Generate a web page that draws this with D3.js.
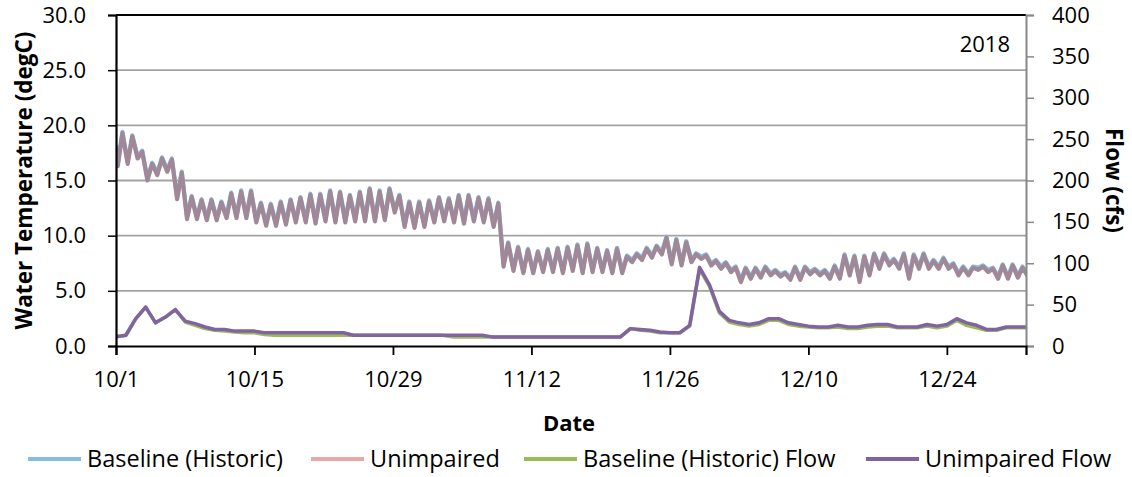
<!DOCTYPE html>
<html><head><meta charset="utf-8">
<script src="https://cdn.jsdelivr.net/npm/d3@7"></script>
<style>
html,body{margin:0;padding:0;background:#fff;}
svg{display:block;font-family:"Open Sans",Lato,sans-serif;}
</style></head>
<body>
<svg id="chart" width="1132" height="477"></svg>
<script>
// ---- data (day 0 = 10/1/2018), daily min/max water temperature (degC) ----
const startDate = Date.UTC(2018, 9, 1);
const endDate = Date.UTC(2019, 0, 1);
const tickLabels = ["10/1", "10/15", "10/29", "11/12", "11/26", "12/10", "12/24"];
const tickDays = [0, 14, 28, 42, 56, 70, 84];
const yearLabel = "2018";

const baseStart = 18.2;
const baseMax = [
  19.4, 19.1, 17.7, 16.6, 17.1, 17.0, 15.8, 13.6, 13.3, 13.3,
  13.1, 13.9, 14.1, 14.1, 13.0, 12.9, 13.1, 13.3, 13.5, 13.8,
  13.8, 14.1, 14.0, 13.7, 14.0, 14.3, 14.1, 14.3, 13.7, 13.1,
  13.1, 13.2, 13.5, 13.4, 13.7, 13.7, 13.5, 13.4, 13.0, 9.4,
  9.0, 8.8, 8.6, 8.8, 8.9, 9.0, 9.2, 9.3, 8.9, 8.7,
  8.9, 8.2, 8.4, 8.9, 9.1, 9.9, 9.7, 9.5, 8.4, 8.3,
  7.8, 7.6, 7.2, 7.1, 7.1, 7.2, 6.9, 6.7, 7.2, 7.2,
  7.0, 6.9, 7.3, 8.3, 8.2, 8.2, 8.4, 8.4, 7.9, 8.4,
  8.3, 8.4, 7.8, 8.0, 7.5, 7.2, 7.2, 7.3, 7.1, 7.4,
  7.4, 7.2, 7.0
];
const baseMin = [
  16.5, 16.7, 17.2, 15.2, 15.7, 16.0, 13.5, 11.7, 11.7, 11.6,
  11.6, 11.8, 11.8, 11.8, 11.4, 11.1, 11.1, 11.2, 11.4, 11.4,
  11.3, 11.5, 11.4, 11.4, 11.5, 11.5, 11.5, 11.6, 12.3, 11.0,
  10.9, 11.0, 11.4, 11.5, 11.4, 11.3, 11.5, 11.4, 11.0, 7.4,
  7.0, 6.8, 6.8, 6.9, 6.9, 6.8, 7.0, 6.8, 6.9, 6.9,
  6.8, 6.8, 7.8, 8.0, 8.2, 8.5, 7.6, 7.5, 7.8, 8.1,
  7.5, 7.2, 6.9, 6.0, 6.3, 6.4, 6.6, 6.5, 6.2, 6.2,
  6.7, 6.6, 6.3, 6.3, 6.6, 6.0, 6.6, 7.2, 7.5, 7.2,
  6.3, 7.2, 7.2, 7.2, 7.2, 6.6, 6.6, 7.1, 6.9, 6.3,
  6.3, 6.4, 6.5
];
const unimpStart = 18.0;
const unimpMax = [
  19.3, 19.0, 17.6, 16.5, 17.0, 16.9, 15.7, 13.5, 13.2, 13.2,
  13.0, 13.8, 14.0, 14.0, 12.9, 12.8, 13.0, 13.2, 13.4, 13.7,
  13.7, 14.0, 13.9, 13.6, 13.9, 14.2, 14.0, 14.2, 13.6, 13.0,
  13.0, 13.1, 13.4, 13.3, 13.6, 13.6, 13.4, 13.3, 12.9, 9.3,
  8.9, 8.7, 8.5, 8.7, 8.8, 8.9, 9.1, 9.2, 8.8, 8.6,
  8.8, 8.1, 8.3, 8.8, 9.0, 9.8, 9.6, 9.4, 8.3, 8.2,
  7.7, 7.5, 7.1, 7.0, 7.0, 7.1, 6.8, 6.6, 7.1, 7.1,
  6.9, 6.8, 7.2, 8.2, 8.1, 8.1, 8.3, 8.3, 7.8, 8.3,
  8.2, 8.3, 7.7, 7.9, 7.4, 7.1, 7.1, 7.2, 7.0, 7.3,
  7.3, 7.1, 6.9
];
const unimpMin = [
  16.3, 16.5, 17.0, 15.0, 15.5, 15.8, 13.3, 11.5, 11.5, 11.4,
  11.4, 11.6, 11.6, 11.6, 11.2, 10.9, 10.9, 11.0, 11.2, 11.2,
  11.1, 11.3, 11.2, 11.2, 11.3, 11.3, 11.3, 11.4, 12.1, 10.8,
  10.7, 10.8, 11.2, 11.3, 11.2, 11.1, 11.3, 11.2, 10.8, 7.2,
  6.8, 6.6, 6.6, 6.7, 6.7, 6.6, 6.8, 6.6, 6.7, 6.7,
  6.6, 6.6, 7.6, 7.8, 8.0, 8.3, 7.4, 7.3, 7.6, 7.9,
  7.3, 7.0, 6.7, 5.8, 6.1, 6.2, 6.4, 6.3, 6.0, 6.0,
  6.5, 6.4, 6.1, 6.1, 6.4, 5.8, 6.4, 7.0, 7.3, 7.0,
  6.1, 7.0, 7.0, 7.0, 7.0, 6.4, 6.4, 6.9, 6.7, 6.1,
  6.1, 6.2, 6.3
];
// daily flow (cfs)
const baseFlow = [
  11, 13, 33, 47, 28, 35, 44, 29, 25, 21,
  19, 18, 17, 16, 16, 14, 13, 13, 13, 13,
  13, 13, 13, 13, 13, 13, 13, 13, 13, 13,
  13, 13, 13, 13, 11, 11, 11, 11, 11, 11,
  11, 11, 11, 11, 11, 11, 11, 11, 11, 11,
  11, 11, 21, 19, 18, 16, 16, 16, 24, 93,
  72, 40, 29, 26, 24, 26, 31, 31, 26, 24,
  23, 22, 22, 23, 21, 21, 23, 24, 24, 22,
  22, 22, 24, 22, 24, 31, 25, 22, 19, 19,
  22, 22, 22
];
const unimpFlow = [
  11, 13, 33, 47, 28, 35, 44, 30, 27, 23,
  20, 20, 18, 18, 18, 16, 16, 16, 16, 16,
  16, 16, 16, 16, 13, 13, 13, 13, 13, 13,
  13, 13, 13, 13, 13, 13, 13, 13, 11, 11,
  11, 11, 11, 11, 11, 11, 11, 11, 11, 11,
  11, 11, 21, 20, 19, 17, 16, 16, 25, 95,
  74, 42, 31, 28, 26, 28, 33, 33, 28, 26,
  24, 23, 23, 25, 23, 23, 25, 26, 26, 23,
  23, 23, 26, 24, 26, 33, 28, 25, 20, 20,
  23, 23, 23
];
const seriesNames = ["Baseline (Historic)", "Unimpaired", "Baseline (Historic) Flow", "Unimpaired Flow"];
const seriesColors = ["#86bce2", "#e8a8aa", "#9bbb59", "#8064a2"];
const overlapColor = "#a08898"; // how the pink Unimpaired trace appears where it sits over the blue one

// ---- chart ----
const DAY = 86400000;
const FONT = 22;
const svg = d3.select("#chart");
const L = 116, R = 1026, T = 15, B = 346;
const x = d3.scaleUtc().domain([new Date(startDate), new Date(endDate)]).range([L, R]);
const yT = d3.scaleLinear().domain([0, 30]).range([B, T]);
const yQ = d3.scaleLinear().domain([0, 400]).range([B, T]);

svg.append("defs").append("clipPath").attr("id", "clip")
  .append("rect").attr("x", L).attr("y", T - 5).attr("width", R - L).attr("height", B - T + 10);

// gridlines
svg.append("g").selectAll("line").data(d3.range(5, 30, 5)).join("line")
  .attr("x1", L).attr("x2", R).attr("y1", d => yT(d)).attr("y2", d => yT(d))
  .attr("stroke", "#a3a3a3").attr("stroke-width", 1.8);
// top border
svg.append("line").attr("x1", L).attr("x2", R).attr("y1", T).attr("y2", T)
  .attr("stroke", "#000").attr("stroke-width", 2);

function tempSeries(start, mins, maxs) {
  const pts = [[new Date(startDate), start]];
  mins.forEach((v, i) => {
    pts.push([new Date(startDate + (i + 0.18) * DAY), v]);
    pts.push([new Date(startDate + (i + 0.65) * DAY), maxs[i]]);
  });
  return pts;
}
const flowSeries = arr => arr.map((v, i) => [new Date(startDate + i * DAY), v]);

const plot = svg.append("g").attr("clip-path", "url(#clip)");
const lineT = d3.line().x(d => x(d[0])).y(d => yT(d[1]));
const lineQ = d3.line().x(d => x(d[0])).y(d => yQ(d[1]));

plot.append("path").datum(tempSeries(baseStart, baseMin, baseMax))
  .attr("d", lineT).attr("fill", "none").attr("stroke", seriesColors[0])
  .attr("stroke-width", 4.2).attr("stroke-linejoin", "round");
plot.append("path").datum(tempSeries(unimpStart, unimpMin, unimpMax))
  .attr("d", lineT).attr("fill", "none").attr("stroke", overlapColor)
  .attr("stroke-width", 4.2).attr("stroke-linejoin", "round");
plot.append("path").datum(flowSeries(baseFlow))
  .attr("d", lineQ).attr("fill", "none").attr("stroke", seriesColors[2])
  .attr("stroke-width", 3.5).attr("stroke-linejoin", "round");
plot.append("path").datum(flowSeries(unimpFlow))
  .attr("d", lineQ).attr("fill", "none").attr("stroke", seriesColors[3])
  .attr("stroke-width", 3.5).attr("stroke-linejoin", "round");

// left axis
const axL = svg.append("g").attr("transform", `translate(${L},0)`)
  .call(d3.axisLeft(yT).tickValues(d3.range(0, 31, 5)).tickFormat(d3.format(".1f")).tickSize(8).tickPadding(22));
axL.select(".domain").attr("stroke", "#000").attr("stroke-width", 2.2);
axL.selectAll(".tick line").attr("stroke", "#000").attr("stroke-width", 1.5);
axL.selectAll("text").attr("font-size", FONT).attr("fill", "#000").style("font-family", "Open Sans");

// right axis
const axR = svg.append("g").attr("transform", `translate(${R},0)`)
  .call(d3.axisRight(yQ).tickValues(d3.range(0, 401, 50)).tickSize(8).tickPadding(18));
axR.select(".domain").attr("stroke", "#888").attr("stroke-width", 2);
axR.selectAll(".tick line").attr("stroke", "#888").attr("stroke-width", 1.5);
axR.selectAll("text").attr("font-size", FONT).attr("fill", "#000").style("font-family", "Open Sans");

// bottom axis
const axB = svg.append("g").attr("transform", `translate(0,${B})`)
  .call(d3.axisBottom(x).tickValues(tickDays.map(d => new Date(startDate + d * DAY)))
    .tickFormat((d, i) => tickLabels[i]).tickSize(9).tickPadding(16));
axB.select(".domain").attr("stroke", "#000").attr("stroke-width", 2.2);
axB.selectAll(".tick line").attr("stroke", "#000").attr("stroke-width", 1.8);
axB.selectAll("text").attr("font-size", FONT).attr("fill", "#000").style("font-family", "Open Sans");

// axis titles
svg.append("text").attr("transform", `translate(32,${(T + B) / 2}) rotate(-90)`)
  .attr("text-anchor", "middle").attr("font-size", 22.5).attr("font-weight", "bold")
  .text("Water Temperature (degC)");
svg.append("text").attr("transform", `translate(1106,${(T + B) / 2}) rotate(90)`)
  .attr("text-anchor", "middle").attr("font-size", 22.5).attr("font-weight", "bold")
  .text("Flow (cfs)");
svg.append("text").attr("x", (L + R) / 2 - 2).attr("y", 431)
  .attr("text-anchor", "middle").attr("font-size", 22).attr("font-weight", "bold").text("Date");
svg.append("text").attr("x", 1010).attr("y", 52)
  .attr("text-anchor", "end").attr("font-size", FONT).text(yearLabel);

// legend
const legX = [28, 311, 524, 866];
const leg = svg.append("g").selectAll("g").data(seriesNames).join("g")
  .attr("transform", (d, i) => `translate(${legX[i]},459)`);
leg.append("line").attr("x1", 0).attr("x2", 53).attr("y1", 0).attr("y2", 0)
  .attr("stroke", (d, i) => seriesColors[i]).attr("stroke-width", 4);
leg.append("text").attr("x", 59).attr("y", 8).attr("font-size", 23.5).text(d => d);
</script>
</body></html>
